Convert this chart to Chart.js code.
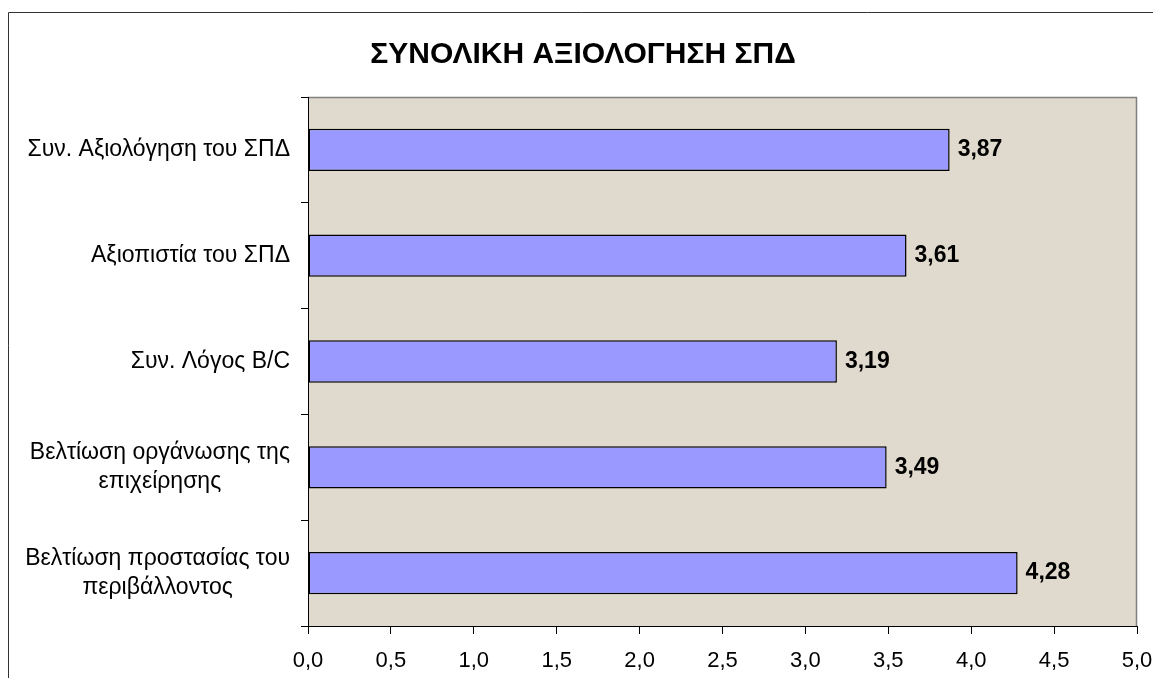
<!DOCTYPE html>
<html>
<head>
<meta charset="utf-8">
<script src="https://cdn.jsdelivr.net/npm/chart.js@4/dist/chart.umd.min.js"></script>
<style>
html,body{margin:0;padding:0;background:#fff;}
#wrap{width:1153px;height:678px;position:relative;}
</style>
</head>
<body>
<div id="wrap"><canvas id="c" width="1153" height="678"></canvas></div>
<script>
const chartTitle = "ΣΥΝΟΛΙΚΗ ΑΞΙΟΛΟΓΗΣΗ ΣΠΔ";
const categories = [
  ["Συν. Αξιολόγηση του ΣΠΔ"],
  ["Αξιοπιστία του ΣΠΔ"],
  ["Συν. Λόγος B/C"],
  ["Βελτίωση οργάνωσης της", "επιχείρησης"],
  ["Βελτίωση προστασίας του", "περιβάλλοντος"]
];
const values = [3.87, 3.61, 3.19, 3.49, 4.28];
const xMin = 0, xMax = 5, xStep = 0.5;

const FONT = "'Liberation Sans', Arial, sans-serif";
const fmt = v => v.toFixed(2).replace('.', ',');

const decor = {
  id: 'decor',
  beforeDraw(chart) {
    const {ctx, chartArea: a} = chart;
    ctx.save();
    ctx.fillStyle = '#ffffff';
    ctx.fillRect(0, 0, chart.width, chart.height);
    // outer frame
    ctx.strokeStyle = '#333';
    ctx.lineWidth = 1;
    ctx.beginPath();
    ctx.moveTo(8.5, chart.height + 5);
    ctx.lineTo(8.5, 12.5);
    ctx.lineTo(chart.width + 5, 12.5);
    ctx.stroke();
    // plot background
    ctx.fillStyle = '#e0d9cd';
    ctx.fillRect(a.left, a.top, a.right - a.left, a.bottom - a.top);
    // plot border top/right
    ctx.strokeStyle = '#808080';
    ctx.lineWidth = 1.5;
    ctx.beginPath();
    ctx.moveTo(a.left, a.top + 0.5);
    ctx.lineTo(a.right - 0.5, a.top + 0.5);
    ctx.lineTo(a.right - 0.5, a.bottom);
    ctx.stroke();
    // title
    ctx.fillStyle = '#000';
    ctx.font = "bold 30px " + FONT;
    ctx.textAlign = 'center';
    ctx.textBaseline = 'middle';
    ctx.fillText(chartTitle, 583, 55);
    ctx.restore();
  },
  afterDraw(chart) {
    const {ctx} = chart;
    const ys = chart.scales.y;
    ctx.save();
    ctx.fillStyle = '#000';
    ctx.font = "23px " + FONT;
    ctx.textBaseline = 'middle';
    ctx.textAlign = 'center';
    const rightEdge = 290, lh = 29;
    categories.forEach((lines, i) => {
      const cy = ys.getPixelForValue(i);
      const maxW = Math.max(...lines.map(l => ctx.measureText(l).width));
      const cx = rightEdge - maxW / 2;
      const y0 = cy - (lines.length - 1) * lh / 2;
      lines.forEach((l, k) => ctx.fillText(l, cx, y0 + k * lh));
    });
    // data labels
    ctx.font = "bold 23px " + FONT;
    ctx.textAlign = 'left';
    const meta = chart.getDatasetMeta(0);
    meta.data.forEach((bar, i) => {
      ctx.fillText(fmt(values[i]), bar.x + 8, bar.y);
    });
    ctx.restore();
  }
};

new Chart(document.getElementById('c'), {
  type: 'bar',
  data: {
    labels: categories.map(c => c.join(' ')),
    datasets: [{
      data: values,
      backgroundColor: '#9999ff',
      borderColor: '#000000',
      borderWidth: 1.5,
      borderSkipped: false,
      categoryPercentage: 1.0,
      barPercentage: 0.4
    }]
  },
  options: {
    indexAxis: 'y',
    responsive: false,
    animation: false,
    devicePixelRatio: 1,
    layout: {padding: {left: 8, top: 97, right: 16, bottom: 0}},
    plugins: {legend: {display: false}, title: {display: false}, tooltip: {enabled: false}},
    scales: {
      x: {
        min: xMin, max: xMax,
        afterFit(s) { s.height = 52; s.paddingLeft = 0; s.paddingRight = 0; },
        ticks: {
          stepSize: xStep,
          color: '#000',
          font: {family: FONT, size: 22},
          padding: 14,
          callback: v => v.toFixed(1).replace('.', ',')
        },
        grid: {drawOnChartArea: false, drawTicks: true, tickLength: 8, color: '#000'},
        border: {display: true, color: '#000', width: 1}
      },
      y: {
        afterFit(s) { s.width = 300; s.paddingTop = 0; s.paddingBottom = 0; },
        ticks: {display: false},
        grid: {drawOnChartArea: false, drawTicks: true, tickLength: 7, color: '#000', offset: true},
        border: {display: true, color: '#000', width: 1}
      }
    }
  },
  plugins: [decor]
});
</script>
</body>
</html>
